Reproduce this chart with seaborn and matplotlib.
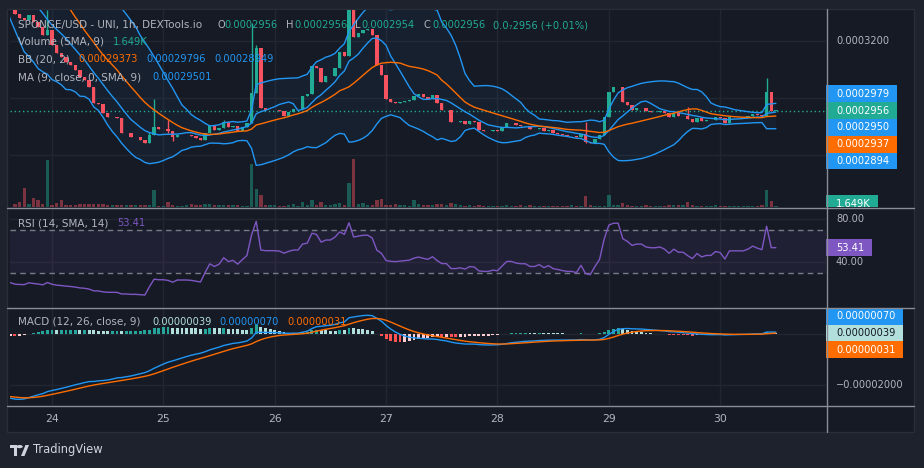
import numpy as np
import pandas as pd
import seaborn as sns
import matplotlib.pyplot as plt
from matplotlib.patches import Rectangle, Polygon, Circle
from matplotlib.lines import Line2D
from matplotlib.transforms import blended_transform_factory

# hourly closes in units of 1e-7 USD
# hours before the visible window: they only warm up BB / MA / RSI / MACD
prior_close_e7 = [
    5050, 4970, 4890, 4935, 4855, 4775, 4820, 4740, 4660, 4705,
    4625, 4545, 4590, 4510, 4430, 4475, 4395, 4315, 4360, 4280,
    4200, 4245, 4165, 4085, 4130, 4050, 3970, 4015, 3935, 3855,
    3900, 3820, 3740, 3785, 3705, 3625, 3670, 3590, 3510, 3555,
    3475, 3395, 3440, 3360,
]
# visible candles, 23rd 16:00 -> 30th 12:00
close_e7 = [
    3295, 3281, 3274, 3291, 3267, 3249, 3221, 3239, 3186, 3158,
    3144, 3126, 3116, 3098, 3074, 3063, 3039, 2982, 2979, 2947,
    2933, 2933, 2930, 2877, 2877, 2863, 2863, 2853, 2842, 2870,
    2898, 2891, 2891, 2884, 2863, 2870, 2870, 2870, 2867, 2860,
    2853, 2877, 2902, 2888, 2895, 2916, 2898, 2902, 2884, 2898,
    2912, 3018, 3176, 2965, 2958, 2958, 2958, 2954, 2937, 2951,
    2961, 2961, 3007, 3014, 3112, 3105, 3056, 3077, 3077, 3105,
    3161, 3147, 3323, 3214, 3228, 3239, 3242, 3221, 3116, 3081,
    2996, 2986, 2982, 2986, 2989, 2993, 3007, 3014, 3004, 2996,
    3011, 2982, 2958, 2958, 2916, 2916, 2919, 2909, 2919, 2916,
    2888, 2884, 2884, 2888, 2884, 2898, 2912, 2912, 2905, 2902,
    2902, 2891, 2891, 2895, 2884, 2888, 2877, 2874, 2870, 2867,
    2867, 2863, 2874, 2846, 2842, 2856, 2870, 2933, 3021, 3039,
    3039, 2986, 2975, 2958, 2965, 2965, 2954, 2951, 2951, 2954,
    2947, 2933, 2947, 2937, 2937, 2926, 2916, 2930, 2919, 2923,
    2923, 2933, 2930, 2912, 2933, 2933, 2933, 2933, 2937, 2944,
    2940, 2937, 3021, 2956, 2956,
]
# wicks that reach beyond the body (candle index -> price e-7)
wick_high_e7 = {7: 3309, 29: 2880, 30: 2996, 33: 2923, 45: 2923, 51: 3263,
                52: 3186, 72: 3340, 123: 2916, 145: 2968, 162: 3070}
wick_low_e7 = {33: 2877, 34: 2849, 123: 2842, 164: 2954}
volume_k = [
    1.4, 2.4, 9.1, 1.4, 4.3, 3.4, 1.4, 22.6, 1.0, 1.9,
    3.4, 1.0, 1.0, 1.0, 1.4, 1.4, 1.4, 1.4, 1.4, 1.4,
    1.0, 1.0, 1.0, 1.0, 1.0, 1.0, 1.0, 1.0, 1.0, 1.0,
    8.2, 0.5, 0.5, 2.4, 1.0, 0.5, 0.5, 1.0, 1.4, 1.0,
    1.0, 1.4, 1.4, 1.0, 1.0, 1.0, 1.0, 1.0, 1.0, 0.5,
    0.5, 20.6, 8.6, 5.8, 1.0, 1.0, 1.0, 0.5, 0.5, 1.0,
    1.4, 0.5, 2.4, 1.0, 3.4, 1.0, 2.4, 1.0, 1.0, 1.4,
    1.9, 1.0, 11.5, 23.0, 1.4, 1.9, 1.0, 1.0, 3.4, 3.8,
    1.0, 1.0, 1.4, 1.0, 1.0, 0.5, 3.4, 1.4, 1.0, 1.0,
    1.0, 1.4, 1.4, 1.0, 1.9, 1.4, 1.0, 0.5, 1.0, 0.5,
    1.0, 0.5, 0.5, 0.5, 0.5, 0.5, 1.0, 0.5, 0.5, 1.0,
    0.5, 1.0, 0.5, 0.5, 0.5, 0.5, 0.5, 0.5, 0.5, 0.5,
    1.0, 0.5, 0.5, 5.3, 1.0, 0.5, 0.5, 0.5, 5.8, 1.0,
    1.0, 1.9, 1.0, 0.5, 0.5, 0.5, 1.0, 0.5, 0.5, 0.5,
    0.5, 1.0, 1.0, 1.0, 1.0, 2.4, 1.0, 0.5, 0.5, 0.5,
    0.5, 1.0, 0.5, 0.5, 0.5, 0.5, 0.5, 0.5, 0.5, 0.5,
    0.5, 1.0, 8.2, 2.9, 0.5,
]
day_labels = ["24", "25", "26", "27", "28", "29", "30"]
first_hour = 16

# values shown on the price scale tags
price_tags = [0.0002979, 0.0002956, 0.0002950, 0.0002937, 0.0002894]
macd_tags = [0.00000070, 0.00000039, 0.00000031]
rsi_tag = 53.41
vol_sma_tag = 1.649

BG = "#161a25"
FRAME = "#1e222d"
GRID = "#222631"
GREY = "#b2b5be"
TEAL = "#22ab94"
RED = "#f7525f"
BLUE = "#2196f3"
ORANGE = "#ff6d00"
PURPLE = "#7e57c2"
LTEAL = "#b2dfdb"

sns.set_theme(style="dark", rc={"figure.facecolor": FRAME, "axes.facecolor": BG})
plt.rcParams["font.family"] = ["DejaVu Sans"]
FS = 7.1      # numbers
FS_TXT = 7.5  # indicator names

# ---- indicators
n_prior = len(prior_close_e7)
s = pd.Series(prior_close_e7 + close_e7, dtype=float) * 1e-7
xs = np.arange(len(s)) - n_prior
basis = s.rolling(20).mean()
dev = s.rolling(20).std(ddof=0)
upper, lower = basis + 2 * dev, basis - 2 * dev
ma9 = s.rolling(9).mean()
delta = s.diff()
gain = delta.clip(lower=0).ewm(alpha=1 / 14, adjust=False).mean()
loss = (-delta.clip(upper=0)).ewm(alpha=1 / 14, adjust=False).mean()
rsi = 100 - 100 / (1 + gain / loss)
macd = s.ewm(span=12, adjust=False).mean() - s.ewm(span=26, adjust=False).mean()
signal = macd.ewm(span=9, adjust=False).mean()
hist = macd - signal

# ---- layout (pixel boxes)
W, H = 924, 468


def box(x0, y0, x1, y1):
    return [x0 / W, 1 - y1 / H, (x1 - x0) / W, (y1 - y0) / H]


fig = plt.figure(figsize=(9.24, 4.68), dpi=100)
fig.add_artist(Rectangle((7 / W, 1 - 432 / H), 907 / W, 423 / H, transform=fig.transFigure,
                         facecolor=BG, edgecolor="#2a2e39", lw=1, zorder=-10))

PRICE_LIM = (2.6174e-4, 3.3089e-4)
RSI_LIM = (-1.9, 90.2)
MACD_LIM = (-2.78e-5, 1.02e-5)
XLIM = (-1.06, 174.8)

vax = fig.add_axes(box(10, 10, 826, 207))
ax = fig.add_axes(box(10, 10, 826, 207), sharex=vax)
rax = fig.add_axes(box(10, 208, 826, 307), sharex=vax)
max_ = fig.add_axes(box(10, 308, 826, 405), sharex=vax)
ax.patch.set_visible(False)
for a in (vax, ax, rax, max_):
    a.set_xlim(XLIM)
    a.set_xticks([])
    a.set_yticks([])
    for sp in a.spines.values():
        sp.set_visible(False)
ax.set_ylim(PRICE_LIM)
rax.set_ylim(RSI_LIM)
max_.set_ylim(MACD_LIM)

day_idx = [(24 - first_hour) + 24 * k for k in range(len(day_labels))]
for a in (vax, rax, max_):
    for d in day_idx:
        a.axvline(d, color=GRID, lw=1, zorder=0)
for v in (0.00028, 0.0003, 0.00032):
    ax.axhline(v, color=GRID, lw=1, zorder=0)
for v in (40, 80):
    rax.axhline(v, color=GRID, lw=1, zorder=0)
for v in (-0.00002, 0):
    max_.axhline(v, color=GRID, lw=1, zorder=0)

# ---- candles + volume
vis = xs >= 0
xv = xs[vis]
o = s.shift(1).values[vis]
c = s.values[vis]
up = c >= o
cols = np.where(up, TEAL, RED)
hi = np.maximum(o, c)
lo = np.minimum(o, c)
wh, wl = hi.copy(), lo.copy()
for k, v in wick_high_e7.items():
    wh[k] = max(wh[k], v * 1e-7)
for k, v in wick_low_e7.items():
    wl[k] = min(wl[k], v * 1e-7)
ax.vlines(xv, wl, wh, colors=cols, lw=1, zorder=3)
ax.bar(xv, np.maximum(hi - lo, 0.4e-7), bottom=lo, width=0.72, color=cols, lw=0, zorder=3)

vax.bar(xv, volume_k, width=0.72, color=cols, alpha=0.45, lw=0)
vax.set_ylim(0, max(volume_k) * 197 / 48)

# ---- bollinger + MA
ax.fill_between(xs, lower, upper, color=BLUE, alpha=0.05, lw=0, zorder=1)
for ser, col in ((upper, BLUE), (lower, BLUE), (ma9, BLUE), (basis, ORANGE)):
    sns.lineplot(x=xs, y=ser.values, ax=ax, color=col, linewidth=1, zorder=4)
ax.axhline(c[-1], color=TEAL, lw=1, ls=(0, (1, 2)), zorder=2)

# ---- RSI
rax.axhspan(30, 70, color=PURPLE, alpha=0.1, lw=0)
for v in (30, 70):
    rax.axhline(v, color="#787b86", lw=1, ls=(0, (4, 3)))
sns.lineplot(x=xs, y=rsi.values, ax=rax, color=PURPLE, linewidth=1)

# ---- MACD
hv = hist.values
prev = np.r_[hv[0], hv[:-1]]
hcols = np.where(hv >= 0, np.where(hv > prev, "#26a69a", LTEAL),
                 np.where(hv < prev, "#ff5252", "#ffcdd2"))
max_.bar(xs, hv, width=0.62, color=hcols, lw=0)
sns.lineplot(x=xs, y=macd.values, ax=max_, color=BLUE, linewidth=1)
sns.lineplot(x=xs, y=signal.values, ax=max_, color=ORANGE, linewidth=1)

for a in (vax, ax, rax, max_):
    a.set_xlabel("")
    a.set_ylabel("")
    a.set_xlim(XLIM)

# ---- separators
for y in (207.5, 307.5, 405.5):
    fig.add_artist(Line2D([7 / W, 914 / W], [1 - y / H] * 2, color="#8a8d96", lw=1))
fig.add_artist(Line2D([826.5 / W] * 2, [1 - 432 / H, 1 - 9 / H], color="#8a8d96", lw=1))


# ---- price scales
def scale_axes(y0, y1, lim):
    sa = fig.add_axes(box(826, y0, 914, y1))
    sa.set_xlim(0, 88)
    sa.set_ylim(lim)
    sa.axis("off")
    return sa, (lim[1] - lim[0]) / (y1 - y0)


def stack(values, k, per_px, gap=16.8):
    pos = list(values)
    for j in range(k - 1, -1, -1):
        pos[j] = max(values[j], pos[j + 1] + gap * per_px)
    for j in range(k + 1, len(values)):
        pos[j] = min(values[j], pos[j - 1] - gap * per_px)
    return pos


def tag(sa, per_px, yc, text, face, width, fg="white"):
    h = 16.8 * per_px
    sa.add_patch(Rectangle((0, yc - h / 2), width, h, facecolor=face, lw=0, clip_on=True))
    sa.text(10, yc, text, color=fg, fontsize=FS, va="center", ha="left", clip_on=True)


def grey_ticks(sa, per_px, ticks, fmt, taken):
    for t in ticks:
        if all(abs(t - p) / per_px > 13 for p in taken):
            sa.text(10, t, fmt(t).replace("-", "\u2212"), color=GREY, fontsize=FS, va="center")


sa, pp = scale_axes(10, 207, PRICE_LIM)
pos = stack(price_tags, 1, pp)
for v, p, col in zip(price_tags, pos, [BLUE, TEAL, BLUE, ORANGE, BLUE]):
    tag(sa, pp, p, f"{v:.7f}", col, 71)
grey_ticks(sa, pp, [0.00028, 0.0003, 0.00032], lambda t: f"{t:.7f}", pos)

va_, vp = scale_axes(10, 207, (0, max(volume_k) * 197 / 48))
tag(va_, vp, vol_sma_tag, f"{vol_sma_tag:.3f}K", TEAL, 52)

ra, rp = scale_axes(208, 307, RSI_LIM)
tag(ra, rp, rsi_tag, f"{rsi_tag:.2f}", PURPLE, 46)
grey_ticks(ra, rp, [40, 80], lambda t: f"{t:.2f}", [rsi_tag])

ma, mp = scale_axes(308, 405, MACD_LIM)
mpos = stack(macd_tags, 1, mp)
for v, p, col, fg in zip(macd_tags, mpos, [BLUE, LTEAL, ORANGE], ["white", "#131722", "white"]):
    tag(ma, mp, p, f"{v:.8f}", col, 77, fg)
grey_ticks(ma, mp, [-0.00002, 0], lambda t: f"{t:.8f}", mpos)

# ---- time axis
tr = blended_transform_factory(max_.transData, fig.transFigure)
for d, lab in zip(day_idx, day_labels):
    max_.text(d, 1 - 419 / H, lab, transform=tr, color=GREY, fontsize=7.8,
              ha="center", va="center", clip_on=False)


# ---- legends
def ftext(x, y, txt, col, size=FS):
    fig.text(x / W, 1 - y / H, txt, color=col, fontsize=size, va="center", ha="left")


ftext(18, 25, "SPONGE/USD - UNI, 1h, DEXTools.io", GREY, FS_TXT)
for x, txt, col in [(217, "O", GREY), (224, "0.0002956", TEAL), (286, "H", GREY),
                    (294, "0.0002956", TEAL), (355, "L", GREY), (361, "0.0002954", TEAL),
                    (424, "C", GREY), (432, "0.0002956", TEAL),
                    (493, "0.0\u20872956 (+0.01%)", TEAL)]:
    ftext(x, 25, txt, col)
ftext(18, 42, "Volume (SMA, 9)", GREY, FS_TXT)
ftext(113, 42, "1.649K", TEAL)
ftext(18, 59, "BB (20, 2)", GREY, FS_TXT)
ftext(78, 59, "0.00029373", ORANGE)
ftext(146, 59, "0.00029796", BLUE)
ftext(214, 59, "0.00028949", BLUE)
ftext(18, 77, "MA (9, close, 0, SMA, 9)", GREY, FS_TXT)
ftext(152, 77, "0.00029501", BLUE)
ftext(18, 223, "RSI (14, SMA, 14)", GREY, FS_TXT)
ftext(117, 223, "53.41", PURPLE)
ftext(18, 322, "MACD (12, 26, close, 9)", GREY, FS_TXT)
ftext(152, 322, "0.00000039", LTEAL)
ftext(219, 322, "0.00000070", BLUE)
ftext(287, 322, "0.00000031", ORANGE)


# ---- TradingView footer
def fpt(x, y):
    return (x / W, 1 - y / H)


logo = "#d1d4dc"
fig.add_artist(Polygon([fpt(10, 445), fpt(17, 445), fpt(17, 456), fpt(14, 456), fpt(14, 448), fpt(10, 448)],
                       closed=True, transform=fig.transFigure, facecolor=logo, lw=0))
fig.add_artist(Circle(fpt(19.6, 446.6), 1.6 / H, transform=fig.transFigure, facecolor=logo, lw=0))
fig.add_artist(Polygon([fpt(21, 456), fpt(24.5, 456), fpt(29, 445), fpt(25.5, 445)],
                       closed=True, transform=fig.transFigure, facecolor=logo, lw=0))
fig.text(33 / W, 1 - 450 / H, "TradingView", color=logo, fontsize=8.3, va="center", ha="left")

fig.savefig("out.png", dpi=100, facecolor=FRAME)
